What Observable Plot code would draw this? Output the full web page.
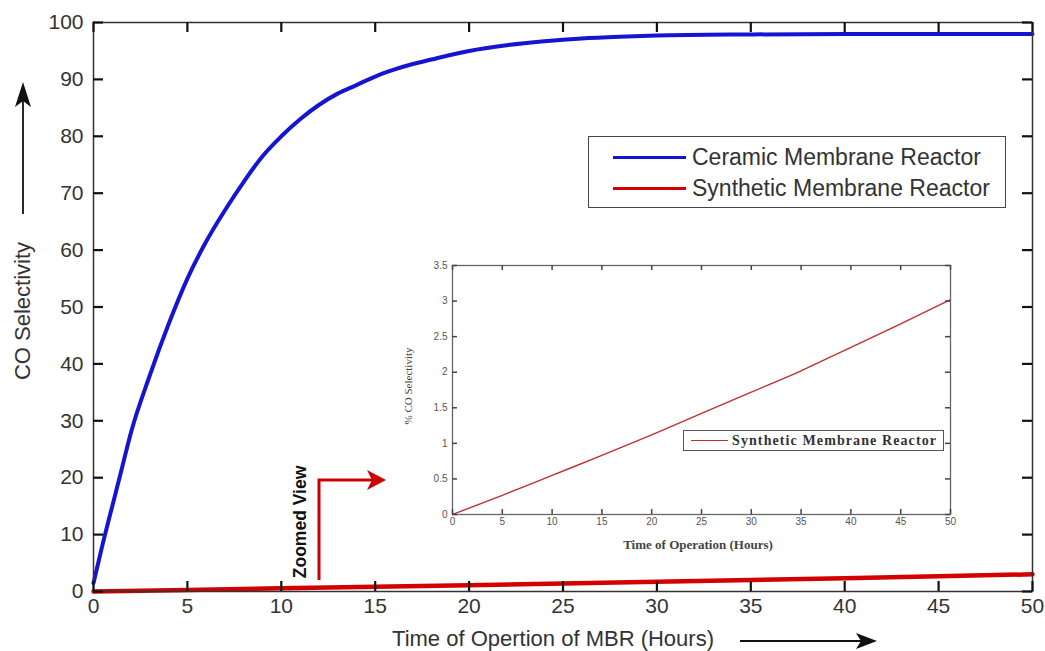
<!DOCTYPE html>
<html>
<head>
<meta charset="utf-8">
<script src="https://cdn.jsdelivr.net/npm/d3@7"></script>
<script src="https://cdn.jsdelivr.net/npm/@observablehq/plot@0.6"></script>
<style>
  html, body { margin: 0; padding: 0; background: #fff; }
  #wrap { position: relative; width: 1045px; height: 651px; overflow: hidden; }
  #wrap > * { position: absolute; }
  .lgd { background: #fff; border: 1px solid #444; box-sizing: border-box; }
  .lgd .row { position: absolute; display: flex; align-items: center; white-space: nowrap; }
  .lgd .sw { display: inline-block; }
</style>
</head>
<body>
<div id="wrap"></div>
<script>
// ---- data ----
const hours = [0, 0.5, 1, 1.5, 2, 3, 4, 5, 6, 7, 8, 9, 10, 11, 12, 13, 14, 15, 16, 17, 18, 19, 20, 22, 24, 26, 28, 30, 35, 40, 45, 50];
const ceramic = [1.5, 8.5, 15, 21.5, 28, 38, 47, 55, 61.5, 67, 72, 76.5, 80, 83, 85.5, 87.5, 89, 90.5, 91.7, 92.7, 93.5, 94.3, 95, 96, 96.7, 97.2, 97.5, 97.7, 97.9, 98, 98, 98];
const synthHours = [0, 5, 10, 15, 20, 25, 30, 35, 40, 45, 50];
const synthetic = [0, 0.27, 0.55, 0.83, 1.12, 1.42, 1.72, 2.02, 2.35, 2.68, 3.02];
const mainXTicks = [0, 5, 10, 15, 20, 25, 30, 35, 40, 45, 50];
const mainYTicks = [0, 10, 20, 30, 40, 50, 60, 70, 80, 90, 100];
const insetXTicks = [0, 5, 10, 15, 20, 25, 30, 35, 40, 45, 50];
const insetYTicks = [0, 0.5, 1, 1.5, 2, 2.5, 3, 3.5];
const seriesNames = ["Ceramic Membrane Reactor", "Synthetic Membrane Reactor"];
const seriesColors = ["#1414d2", "#d40000"];

const ceramicData = hours.map((h, i) => ({h, v: ceramic[i]}));
const synthData = synthHours.map((h, i) => ({h, v: synthetic[i]}));

const wrap = document.getElementById("wrap");

// inward tick marks on all four sides (MATLAB style), drawn as short rules
function innerTicks(xt, yt, innerW, innerH, len, stroke, sw) {
  return [
    Plot.ruleX(xt, {x: d => d, insetTop: innerH - len, stroke, strokeWidth: sw}),
    Plot.ruleX(xt, {x: d => d, insetBottom: innerH - len, stroke, strokeWidth: sw}),
    Plot.ruleY(yt, {y: d => d, insetRight: innerW - len, stroke, strokeWidth: sw}),
    Plot.ruleY(yt, {y: d => d, insetLeft: innerW - len, stroke, strokeWidth: sw})
  ];
}

// ---- main chart ----
const M = {w: 1045, h: 651, l: 93, r: 13, t: 22, b: 60};
const main = Plot.plot({
  width: M.w, height: M.h,
  marginLeft: M.l, marginRight: M.r, marginTop: M.t, marginBottom: M.b,
  x: {domain: [0, 50]},
  y: {domain: [0, 100]},
  style: {fontFamily: "'Liberation Sans', Arial, sans-serif", fontSize: "21px", color: "#333", background: "transparent"},
  marks: [
    Plot.line(synthData, {x: "h", y: "v", stroke: seriesColors[1], strokeWidth: 4.5}),
    Plot.line(ceramicData, {x: "h", y: "v", stroke: seriesColors[0], strokeWidth: 4, curve: "monotone-x"}),
    Plot.frame({stroke: "#333", strokeWidth: 1.5}),
    ...innerTicks(mainXTicks, mainYTicks, M.w - M.l - M.r, M.h - M.t - M.b, 10, "#111", 2.2),
    Plot.axisX({anchor: "bottom", ticks: mainXTicks, tickSize: 0, tickPadding: 7, label: null}),
    Plot.axisY({anchor: "left", ticks: mainYTicks, tickSize: 0, tickPadding: 10, label: null})
  ]
});
main.style.left = "0px"; main.style.top = "0px";
wrap.appendChild(main);

// ---- inset chart ----
const I = {w: 600, h: 310, l: 72, r: 30, t: 15, b: 46};
const inset = Plot.plot({
  width: I.w, height: I.h,
  marginLeft: I.l, marginRight: I.r, marginTop: I.t, marginBottom: I.b,
  x: {domain: [0, 50]},
  y: {domain: [0, 3.5]},
  style: {fontFamily: "'Liberation Sans', Arial, sans-serif", fontSize: "10px", color: "#555", background: "#fff"},
  marks: [
    Plot.line(synthData, {x: "h", y: "v", stroke: "#c03030", strokeWidth: 1.4, curve: "monotone-x"}),
    Plot.frame({stroke: "#666", strokeWidth: 1.3}),
    ...innerTicks(insetXTicks, insetYTicks, I.w - I.l - I.r, I.h - I.t - I.b, 5, "#444", 1.5),
    Plot.axisX({anchor: "bottom", ticks: insetXTicks, tickSize: 0, tickPadding: 3, tickFormat: d => String(d), label: null}),
    Plot.axisY({anchor: "left", ticks: insetYTicks, tickSize: 0, tickPadding: 5, tickFormat: d => String(d), label: null})
  ]
});
inset.style.left = "380px"; inset.style.top = "250px";
wrap.appendChild(inset);

// ---- annotations overlay ----
const ns = "http://www.w3.org/2000/svg";
const ov = document.createElementNS(ns, "svg");
ov.setAttribute("width", 1045); ov.setAttribute("height", 651);
ov.style.left = "0px"; ov.style.top = "0px"; ov.style.pointerEvents = "none";
ov.innerHTML = `
  <text x="553" y="646" text-anchor="middle" font-family="'Liberation Sans', Arial, sans-serif" font-size="22" fill="#333">Time of Opertion of MBR (Hours)</text>
  <line x1="740" y1="641" x2="862" y2="641" stroke="#111" stroke-width="1.8"/>
  <path d="M877,641 L856,633 L861,641 L856,649 Z" fill="#111"/>
  <text transform="translate(30,311) rotate(-90)" text-anchor="middle" font-family="'Liberation Sans', Arial, sans-serif" font-size="22" fill="#333">CO Selectivity</text>
  <line x1="23" y1="214" x2="23" y2="96" stroke="#111" stroke-width="1.8"/>
  <path d="M23,82 L15,107 L23,101 L31,107 Z" fill="#111"/>
  <text transform="translate(306,522) rotate(-90)" text-anchor="middle" font-family="'Liberation Sans', 'DejaVu Sans', sans-serif" font-weight="bold" font-size="17.5" fill="#111">Zoomed View</text>
  <path d="M319,580 V480 H372" fill="none" stroke="#cc0000" stroke-width="3"/>
  <path d="M386,480 L367,470 L372,480 L367,490 Z" fill="#cc0000"/>
  <text x="698" y="549" text-anchor="middle" font-family="'Liberation Serif', 'Times New Roman', serif" font-weight="bold" font-size="13" fill="#444">Time of Operation (Hours)</text>
  <text transform="translate(412,386) rotate(-90)" text-anchor="middle" font-family="'Liberation Serif', 'Times New Roman', serif" font-size="11" fill="#444">% CO Selectivity</text>
`;
wrap.appendChild(ov);

// ---- main legend ----
const lg = document.createElement("div");
lg.className = "lgd";
Object.assign(lg.style, {left: "588px", top: "136px", width: "418px", height: "72px"});
seriesNames.forEach((name, i) => {
  const row = document.createElement("div");
  row.className = "row";
  Object.assign(row.style, {left: "24px", top: (6 + i * 31) + "px", height: "29px",
    fontFamily: "'Liberation Sans', Arial, sans-serif", fontSize: "23px", color: "#333"});
  const sw = document.createElement("span");
  sw.className = "sw";
  Object.assign(sw.style, {width: "73px", height: "3px", background: seriesColors[i], marginRight: "6px"});
  row.appendChild(sw);
  row.appendChild(document.createTextNode(name));
  lg.appendChild(row);
});
wrap.appendChild(lg);

// ---- inset legend ----
const lg2 = document.createElement("div");
lg2.className = "lgd";
Object.assign(lg2.style, {left: "683px", top: "430px", width: "261px", height: "21px", borderColor: "#555"});
{
  const row = document.createElement("div");
  row.className = "row";
  Object.assign(row.style, {left: "7px", top: "0px", height: "19px",
    fontFamily: "'Liberation Serif', 'Times New Roman', serif", fontSize: "14px", fontWeight: "bold",
    letterSpacing: "1.1px", color: "#333"});
  const sw = document.createElement("span");
  sw.className = "sw";
  Object.assign(sw.style, {width: "37px", height: "1.5px", background: "#c03030", marginRight: "4px"});
  row.appendChild(sw);
  row.appendChild(document.createTextNode(seriesNames[1]));
  lg2.appendChild(row);
}
wrap.appendChild(lg2);
</script>
</body>
</html>
